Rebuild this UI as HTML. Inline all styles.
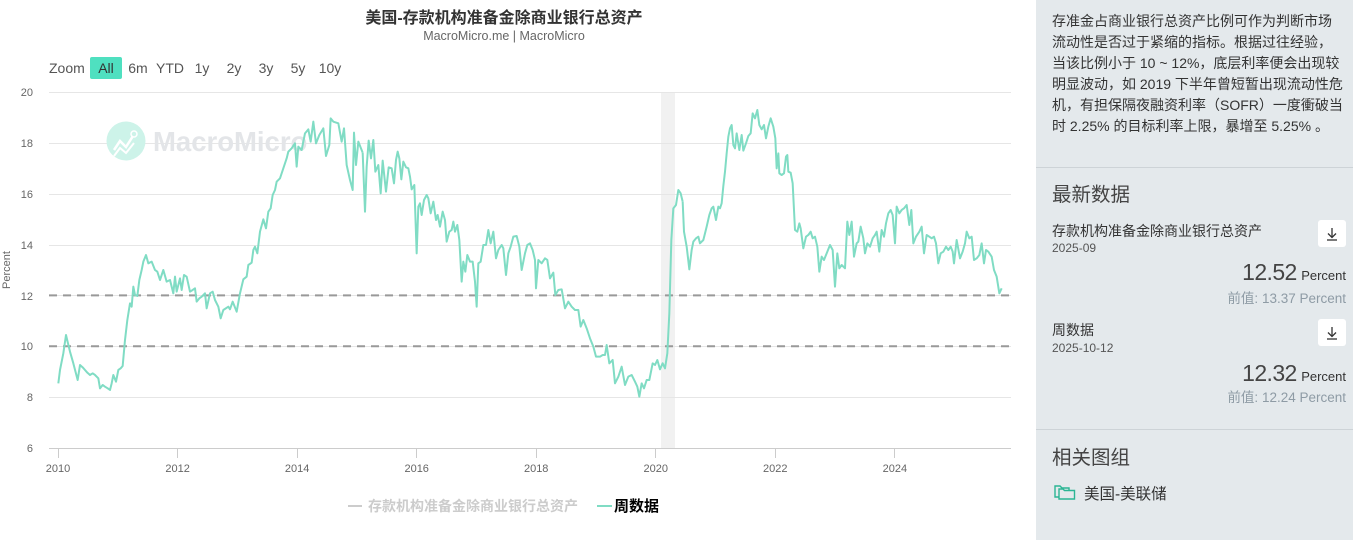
<!DOCTYPE html>
<html><head><meta charset="utf-8">
<style>
*{margin:0;padding:0;box-sizing:border-box}
body{width:1353px;height:540px;overflow:hidden;background:#fff;font-family:"Liberation Sans","Noto Sans CJK SC",sans-serif;position:relative}
.abs{position:absolute;white-space:nowrap}
#panel{position:absolute;left:1036px;top:0;width:317px;height:540px;background:#e4e9ec}
.desc{position:absolute;left:16px;top:11px;font-size:14px;line-height:21px;color:#333;white-space:nowrap}
.h{position:absolute;left:16px;font-size:19.5px;color:#444}
.lbl{position:absolute;left:16px;font-size:14px;color:#333}
.date{position:absolute;left:16px;font-size:12px;color:#555}
.btn{position:absolute;left:282px;width:28px;height:27px;background:#fff;border-radius:3px}
.big{position:absolute;right:7px;color:#444;white-space:nowrap}
.big b{font-weight:normal;font-size:23px;letter-spacing:-0.6px}
.big span{font-size:13px;color:#333}
.prev{position:absolute;right:7px;font-size:13.5px;color:#8e9ba5;white-space:nowrap}
.hr{position:absolute;left:0;width:317px;height:1px;background:#cdd3d7}
</style></head><body>

<div class="abs" style="left:0;width:1008px;top:4px;text-align:center;font-size:16px;font-weight:bold;color:#333">美国-存款机构准备金除商业银行总资产</div>
<div class="abs" style="left:0;width:1008px;top:29px;text-align:center;font-size:12.5px;color:#666">MacroMicro.me | MacroMicro</div>

<svg class="abs" style="left:0;top:0" width="1036" height="540" viewBox="0 0 1036 540">
  <rect x="90" y="57" width="32" height="22" rx="2" fill="#4fe0c0"/>
  <g font-family="Liberation Sans, sans-serif" font-size="14" fill="#555">
    <text x="49" y="73">Zoom</text>
    <text x="106" y="73" text-anchor="middle" fill="#333">All</text>
    <text x="138" y="73" text-anchor="middle">6m</text>
    <text x="170" y="73" text-anchor="middle">YTD</text>
    <text x="202" y="73" text-anchor="middle">1y</text>
    <text x="234" y="73" text-anchor="middle">2y</text>
    <text x="266" y="73" text-anchor="middle">3y</text>
    <text x="298" y="73" text-anchor="middle">5y</text>
    <text x="330" y="73" text-anchor="middle">10y</text>
  </g>
  <rect x="661" y="92" width="14" height="356" fill="#f1f1f1"/>
  <g stroke="#e6e6e6" stroke-width="1">
    <line x1="49" x2="1011" y1="92.5" y2="92.5"/>
    <line x1="49" x2="1011" y1="143.5" y2="143.5"/>
    <line x1="49" x2="1011" y1="194.5" y2="194.5"/>
    <line x1="49" x2="1011" y1="245.5" y2="245.5"/>
    <line x1="49" x2="1011" y1="295.5" y2="295.5"/>
    <line x1="49" x2="1011" y1="346.5" y2="346.5"/>
    <line x1="49" x2="1011" y1="397.5" y2="397.5"/>
  </g>
  <line x1="49" x2="1011" y1="448.5" y2="448.5" stroke="#ccc"/>
  <g stroke="#ccc">
    <line x1="58.5" x2="58.5" y1="448" y2="458"/>
    <line x1="177.5" x2="177.5" y1="448" y2="458"/>
    <line x1="297.5" x2="297.5" y1="448" y2="458"/>
    <line x1="416.5" x2="416.5" y1="448" y2="458"/>
    <line x1="536.5" x2="536.5" y1="448" y2="458"/>
    <line x1="655.5" x2="655.5" y1="448" y2="458"/>
    <line x1="775.5" x2="775.5" y1="448" y2="458"/>
    <line x1="894.5" x2="894.5" y1="448" y2="458"/>
  </g>
  <g font-family="Liberation Sans, sans-serif" font-size="11" fill="#666" text-anchor="end">
    <text x="33" y="96">20</text>
    <text x="33" y="147">18</text>
    <text x="33" y="198">16</text>
    <text x="33" y="249">14</text>
    <text x="33" y="300">12</text>
    <text x="33" y="350">10</text>
    <text x="33" y="401">8</text>
    <text x="33" y="452">6</text>
  </g>
  <text transform="translate(10,270) rotate(-90)" font-family="Liberation Sans, sans-serif" font-size="11" fill="#666" text-anchor="middle">Percent</text>
  <g font-family="Liberation Sans, sans-serif" font-size="11" fill="#666" text-anchor="middle">
    <text x="58" y="472">2010</text>
    <text x="177.6" y="472">2012</text>
    <text x="297.1" y="472">2014</text>
    <text x="416.7" y="472">2016</text>
    <text x="536.2" y="472">2018</text>
    <text x="655.8" y="472">2020</text>
    <text x="775.3" y="472">2022</text>
    <text x="894.9" y="472">2024</text>
  </g>
  <circle cx="126" cy="141" r="19.5" fill="#cdf3e9"/>
  <polyline points="114,150 120,141 126,147 133,136" fill="none" stroke="#fff" stroke-width="2.5"/>
  <polyline points="114,156 120,148 126,153 134,143" fill="none" stroke="#fff" stroke-width="2"/>
  <circle cx="134" cy="134" r="3" fill="none" stroke="#fff" stroke-width="1.5"/>
  <text x="153" y="151" font-family="Liberation Sans, sans-serif" font-weight="bold" font-size="27.5" fill="#e3e5e8">MacroMicro</text>
  <g stroke="#999" stroke-width="2" stroke-dasharray="8,6">
    <line x1="49" x2="1011" y1="295.4" y2="295.4"/>
    <line x1="49" x2="1011" y1="346.3" y2="346.3"/>
  </g>
  <g fill="none" stroke="#80dcc4" stroke-width="2" stroke-linejoin="round">
    <g transform="translate(40,80) scale(0.33333)">
      <polyline vector-effect="non-scaling-stroke" points="55,910 60,870 70,820 78,765 84,790 90,815 100,850 113,900 120,855 128,862 135,870 142,878 150,885 158,880 165,885 175,895 180,925 188,915 195,920 203,925 210,930 215,910 220,885 228,905 235,870 242,865 248,858 255,780 262,720 270,670 275,680 280,620 285,645 292,648 298,600 305,570 310,545 318,525 325,550 335,545 345,570 352,575 360,600 370,570 380,605 390,600 400,640 405,590 410,635 420,595 425,630 432,585 440,590 450,635 458,630 465,625 470,665 478,655 485,650 495,640 500,685 510,640 518,635 525,660 535,680 542,715 550,690 565,680 570,688 578,665 590,695 600,640 610,598 620,590 625,555 635,548 640,510 645,500 652,520 660,455 670,418 678,445 685,395 692,385 698,345 705,330 710,305 720,295 730,265 740,235 745,215 755,205 765,190 770,260 775,200 785,210 795,160 805,148 812,185 820,125 828,190 838,165 850,145 858,228 868,195 872,115 880,125 895,130 905,185 912,145 920,255 930,300 938,330 942,158 948,255 955,185 968,218"/>
    </g>
    <g transform="translate(360,80) scale(0.33333)">
      <polyline vector-effect="non-scaling-stroke" points="8,218 15,395 20,260 26,182 33,235 40,180 46,275 55,255 62,340 68,242 78,335 86,262 95,265 102,310 108,240 113,215 118,235 124,298 130,245 138,262 145,265 150,290 155,328 163,315 170,520 175,380 180,370 185,405 192,360 200,345 205,355 212,400 220,365 228,420 233,405 240,440 248,395 255,420 260,485 268,455 275,450 280,425 285,455 292,435 298,480 305,605 310,545 316,575 322,525 330,545 338,545 345,605 350,680 355,550 362,545 370,495 378,495 385,450 392,490 400,455 408,535 415,510 425,495 430,505 438,585 445,520 452,500 460,470 470,468 478,500 485,570 495,520 502,495 510,490 518,510 525,540 528,625 535,540 545,550 555,535 562,540 570,595 580,578 586,645 595,630 605,628 615,685 625,665 635,680 645,690 655,690 662,740 670,720 680,745 690,775 700,800 708,830 720,830 728,825 735,825 740,795 748,850 758,840 765,910 775,890 785,860 795,915 805,890 815,885 825,905 832,920 838,950 845,910 852,925 860,900 868,900 878,850 885,855 892,840 900,868 908,850 915,865 922,820 928,700 934,480 940,385 948,375 955,330 962,340 968,365"/>
    </g>
    <g transform="translate(680,80) scale(0.33333)">
      <polyline vector-effect="non-scaling-stroke" points="8,365 12,455 20,500 28,568 35,510 40,485 48,475 55,470 60,490 70,480 75,460 80,440 88,405 95,385 100,380 108,420 115,380 120,385 125,370 130,318 135,275 140,220 145,170 150,145 155,135 160,195 165,205 170,160 178,210 185,165 190,212 198,190 205,168 212,160 218,100 225,115 232,90 238,135 245,148 252,135 258,175 265,140 272,115 280,140 286,175 290,265 295,220 298,280 305,285 312,280 318,230 322,225 325,275 332,278 338,310 345,450 352,455 358,430 362,445 370,505 378,470 385,465 392,455 398,475 405,470 412,500 418,575 425,530 432,540 440,520 450,495 458,510 465,620 472,520 478,565 485,555 495,565 502,425 508,465 515,425 522,530 530,490 535,485 542,440 550,475 555,520 562,490 570,500 578,475 585,465 590,455 598,515 605,450 612,470 618,430 625,400 632,390 638,405 645,490 650,380 658,400 665,390 672,385 680,375 688,435 694,390 700,490 708,470 718,455 725,440 732,520 740,465 748,470 755,475 762,470 768,490 775,550 782,520 790,515 798,500 805,510 812,500 818,515 822,550 830,480 840,535 848,515 855,490 860,455 868,475 875,470 882,540 890,535 898,525 905,490 912,550 918,510 925,515 935,530 942,570 950,590 958,640 965,625"/>
    </g>
  </g>
  <line x1="348" x2="362" y1="506" y2="506" stroke="#ccc" stroke-width="2"/>
  <text x="368" y="511" font-family="Liberation Sans, Noto Sans CJK SC, sans-serif" font-size="14" font-weight="bold" fill="#ccc">存款机构准备金除商业银行总资产</text>
  <line x1="597" x2="612" y1="506" y2="506" stroke="#80dcc4" stroke-width="2"/>
  <text x="614" y="511" font-family="Liberation Sans, Noto Sans CJK SC, sans-serif" font-size="15" font-weight="bold" fill="#000">周数据</text>
</svg>

<div id="panel">
  <div class="desc">存准金占商业银行总资产比例可作为判断市场<br>流动性是否过于紧缩的指标。根据过往经验，<br>当该比例小于 10 ~ 12%，底层利率便会出现较<br>明显波动，如 2019 下半年曾短暂出现流动性危<br>机，有担保隔夜融资利率（SOFR）一度衝破当<br>时 2.25% 的目标利率上限，暴增至 5.25% 。</div>
  <div class="hr" style="top:167px"></div>
  <div class="h" style="top:178px">最新数据</div>
  <div class="lbl" style="top:221px">存款机构准备金除商业银行总资产</div>
  <div class="date" style="top:241px">2025-09</div>
  <div class="btn" style="top:220px"><svg width="28" height="27"><g stroke="#333" stroke-width="1.3" fill="none"><line x1="14" y1="8" x2="14" y2="17"/><polyline points="10,13.5 14,17.5 18,13.5"/><line x1="9" y1="20" x2="19" y2="20"/></g></svg></div>
  <div class="big" style="top:259px"><b>12.52</b> <span>Percent</span></div>
  <div class="prev" style="top:287px">前值: 13.37 Percent</div>
  <div class="lbl" style="top:320px">周数据</div>
  <div class="date" style="top:341px">2025-10-12</div>
  <div class="btn" style="top:319px"><svg width="28" height="27"><g stroke="#333" stroke-width="1.3" fill="none"><line x1="14" y1="8" x2="14" y2="17"/><polyline points="10,13.5 14,17.5 18,13.5"/><line x1="9" y1="20" x2="19" y2="20"/></g></svg></div>
  <div class="big" style="top:360px"><b>12.32</b> <span>Percent</span></div>
  <div class="prev" style="top:386px">前值: 12.24 Percent</div>
  <div class="hr" style="top:429px"></div>
  <div class="h" style="top:441px">相关图组</div>
  <svg style="position:absolute;left:18px;top:482px" width="22" height="18"><g fill="none" stroke="#2bb594" stroke-width="1.4"><path d="M1,4 h5 l2,2 h7 v9 h-14 z"/><path d="M5,7 h4 l1.5,1.5 h10 v8.5 h-15.5 z" fill="#e4e9ec"/></g></svg>
  <div class="abs" style="left:48px;top:482px;font-size:15.5px;color:#333">美国-美联储</div>
</div>
</body></html>
